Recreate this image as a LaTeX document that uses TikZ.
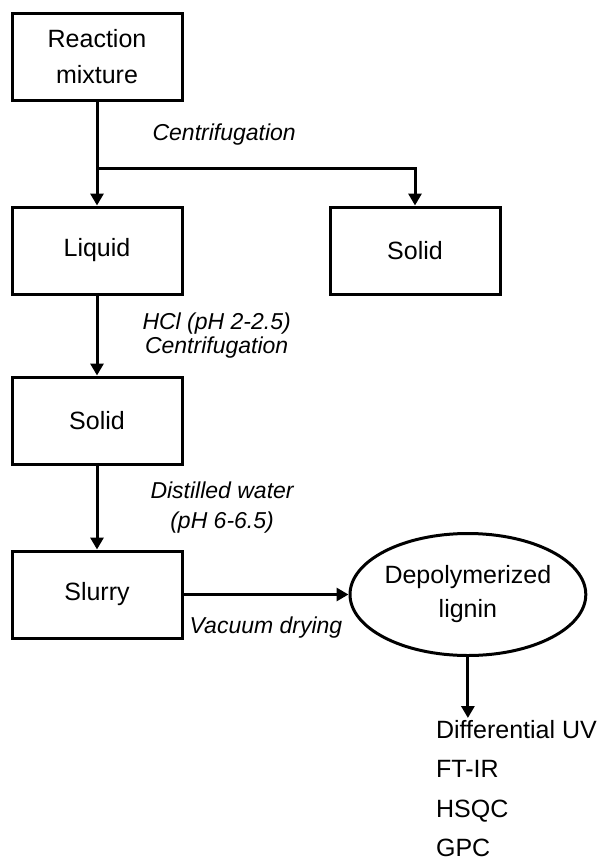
\documentclass[tikz,border=0pt]{standalone}
\usepackage{fontspec}
\setmainfont{Liberation Sans}
\usetikzlibrary{arrows.meta, positioning, shapes.geometric, calc}

\begin{document}
\begin{tikzpicture}[
  box/.style={draw, line width=3pt, minimum width=170pt, minimum height=87pt,
              inner sep=0pt, text centered, align=center, font=\fontsize{25}{36}\selectfont},
  blob/.style={draw, ellipse, line width=3pt, minimum width=230pt, minimum height=122pt,
               inner sep=0pt, align=center, font=\fontsize{25}{34}\selectfont},
  note/.style={inner sep=0pt, align=center, font=\fontsize{23}{27}\selectfont\itshape},
  list/.style={inner sep=0pt, align=left, font=\fontsize{25}{39.5}\selectfont},
  arrow/.style={-{Triangle[length=12pt, width=13pt]}, line width=3pt}
]
\useasboundingbox (0,0) rectangle (600pt,-862pt);

\node[box] (react) at (97pt,-56.5pt) {Reaction\\mixture};
\node[box, below=104pt of react] (liquid) {Liquid};
\node[box, right=145pt of liquid] (solidR) {Solid};
\node[box, below=80pt of liquid] (solid) {Solid};
\node[box, below=84pt of solid] (slurry) {Slurry};
\node[blob, right=165pt of slurry] (lignin) {Depolymerized\\lignin};

\coordinate (branch) at ($(react.south)!0.64!(liquid.north)$);
\coordinate (mtop) at ($(lignin.south)+(0,-61pt)$);
\node[list, anchor=north west] (methods) at ($(mtop)+(-32pt,-2pt)$)
  {Differential UV\\FT-IR\\HSQC\\GPC};

\draw[arrow] (react) -- (liquid);
\draw[arrow] (branch) -| node[note, pos=0.2, above=21pt] (lab1) {Centrifugation} (solidR);
\draw[arrow] (liquid) -- node[note, right=44pt, font=\fontsize{23}{24}\selectfont\itshape] (lab2)
  {HCl (pH 2-2.5)\\Centrifugation} (solid);
\draw[arrow] (solid) -- node[note, right=52pt, font=\fontsize{23}{30}\selectfont\itshape] (lab3)
  {Distilled water\\(pH 6-6.5)} (slurry);
\draw[arrow] (slurry) -- node[note, below=21pt] (lab4) {Vacuum drying} (lignin);
\draw[arrow] (lignin.south) -- (mtop);
\end{tikzpicture}
\end{document}
